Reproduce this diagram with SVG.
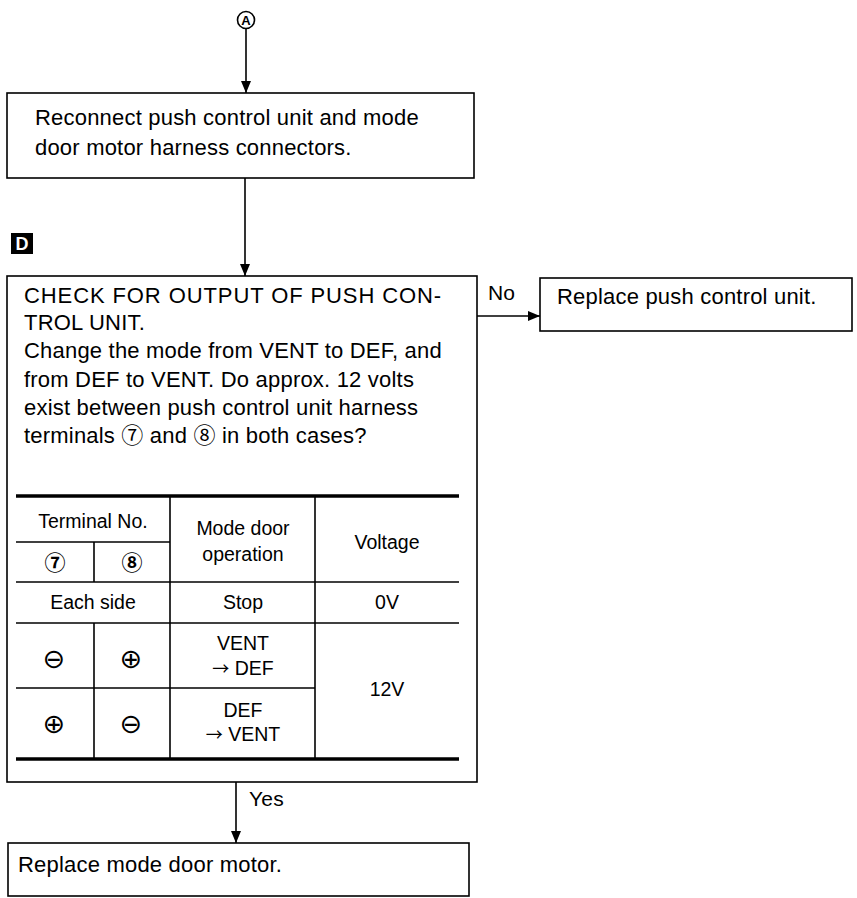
<svg xmlns="http://www.w3.org/2000/svg" width="857" height="898" viewBox="0 0 857 898">
<defs>
<marker id="arr" markerWidth="12" markerHeight="12" refX="12" refY="6" orient="auto" markerUnits="userSpaceOnUse">
<path d="M0,1 L12,6 L0,11 Z" fill="#000"/>
</marker>
<style>
.box{fill:#fff;stroke:#000;stroke-width:1.6}
.t{font-family:"Liberation Sans","Noto Sans CJK JP",sans-serif;font-size:22px;letter-spacing:0.2px;fill:#000}
.cd{font-family:"Noto Sans CJK JP","DejaVu Sans",sans-serif;font-size:22px}
.tt{font-family:"Liberation Sans","Noto Sans CJK JP",sans-serif;font-size:19.5px;fill:#000;text-anchor:middle}
.tcd{font-family:"Noto Sans CJK JP","DejaVu Sans",sans-serif;font-size:21px;font-weight:bold;fill:#000;text-anchor:middle}
.sym{font-family:"DejaVu Sans",sans-serif;font-size:27px;fill:#000;text-anchor:middle}
.ar{font-family:"Noto Sans CJK JP","DejaVu Sans",sans-serif;font-size:17px}
.ln{stroke:#000;stroke-width:1.6;fill:none}
.thick{stroke:#000;stroke-width:3.5;fill:none}
.con{stroke:#000;stroke-width:1.6;fill:none;marker-end:url(#arr)}
</style>
</defs>
<rect width="857" height="898" fill="#fff"/>

<g id="connectors">
<line class="con" x1="246" y1="29" x2="246" y2="93"/>
<line class="con" x1="245" y1="178" x2="245" y2="276"/>
<line class="con" x1="477" y1="316" x2="540" y2="316"/>
<line class="con" x1="236" y1="782" x2="236" y2="843"/>
<text class="t" x="488" y="300" style="font-size:21px">No</text>
<text class="t" x="249" y="806" style="font-size:21px">Yes</text>
</g>

<g id="start-A">
<circle cx="246" cy="20" r="8.5" fill="#fff" stroke="#000" stroke-width="1.6"/>
<text x="246" y="25" text-anchor="middle" style="font-family:'Liberation Sans',sans-serif;font-size:13px;font-weight:bold">A</text>
</g>

<g id="reconnect">
<rect class="box" x="7" y="93" width="467" height="85"/>
<text class="t" x="35" y="125">Reconnect push control unit and mode</text>
<text class="t" x="35" y="155">door motor harness connectors.</text>
</g>

<g id="marker-D">
<rect x="11" y="233" width="22" height="21" fill="#000"/>
<text x="22" y="250" text-anchor="middle" style="font-family:'Liberation Sans',sans-serif;font-size:18px;font-weight:bold;fill:#fff">D</text>
</g>

<g id="check">
<rect class="box" x="7" y="276" width="470" height="506"/>
<text class="t" x="24" y="303" style="letter-spacing:0.9px">CHECK FOR OUTPUT OF PUSH CON-</text>
<text class="t" x="24" y="330">TROL UNIT.</text>
<text class="t" x="24" y="358">Change the mode from VENT to DEF, and</text>
<text class="t" x="24" y="387">from DEF to VENT. Do approx. 12 volts</text>
<text class="t" x="24" y="415">exist between push control unit harness</text>
<text class="t" x="24" y="443">terminals <tspan class="cd">⑦</tspan>  and <tspan class="cd">⑧</tspan>  in both cases?</text>

<g id="table">
<line class="thick" x1="16" y1="496" x2="459" y2="496"/>
<line class="ln" x1="16" y1="542" x2="170" y2="542"/>
<line class="ln" x1="16" y1="582" x2="459" y2="582"/>
<line class="ln" x1="16" y1="623" x2="459" y2="623"/>
<line class="ln" x1="16" y1="688" x2="315" y2="688"/>
<line class="thick" x1="16" y1="759" x2="459" y2="759"/>
<line class="ln" x1="94" y1="542" x2="94" y2="582"/>
<line class="ln" x1="94" y1="623" x2="94" y2="758"/>
<line class="ln" x1="170" y1="497" x2="170" y2="758"/>
<line class="ln" x1="315" y1="497" x2="315" y2="758"/>

<text class="tt" x="93" y="528">Terminal No.</text>
<text class="tcd" x="55" y="570">⑦</text>
<text class="tcd" x="132" y="570">⑧</text>
<text class="tt" x="243" y="535">Mode door</text>
<text class="tt" x="243" y="561">operation</text>
<text class="tt" x="387" y="549">Voltage</text>
<text class="tt" x="93" y="609">Each side</text>
<text class="tt" x="243" y="609">Stop</text>
<text class="tt" x="387" y="609">0V</text>
<text class="sym" x="54" y="668">⊖</text>
<text class="sym" x="131" y="668">⊕</text>
<text class="tt" x="243" y="650">VENT</text>
<text class="tt" x="243" y="675"><tspan class="ar">→</tspan>&#160;DEF</text>
<text class="tt" x="387" y="696">12V</text>
<text class="sym" x="54" y="733">⊕</text>
<text class="sym" x="131" y="733">⊖</text>
<text class="tt" x="243" y="717">DEF</text>
<text class="tt" x="243" y="741"><tspan class="ar">→</tspan>&#160;VENT</text>
</g>
</g>

<g id="replace-push">
<rect class="box" x="540" y="278" width="312" height="53"/>
<text class="t" x="557" y="304">Replace push control unit.</text>
</g>

<g id="replace-motor">
<rect class="box" x="8" y="843" width="461" height="53"/>
<text class="t" x="18" y="872">Replace mode door motor.</text>
</g>
</svg>
